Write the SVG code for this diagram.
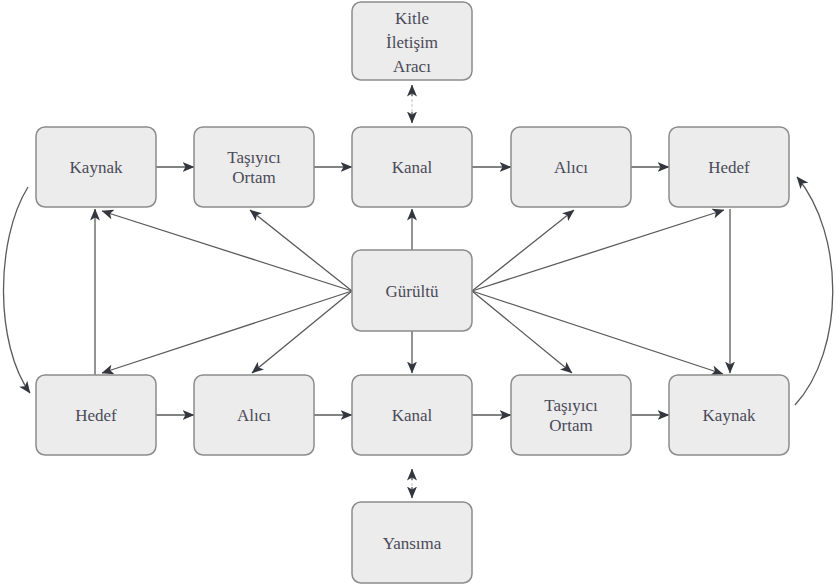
<svg xmlns="http://www.w3.org/2000/svg" width="836" height="587" viewBox="0 0 836 587">
<style>
.box{fill:#ececec;stroke:#8c8c8c;stroke-width:1.5}
text{font-family:'Liberation Serif','DejaVu Serif','Times New Roman',serif;font-size:17px;fill:#4a4a58;text-anchor:middle;dominant-baseline:central}
.c{fill:none;stroke:#5a5a5a;stroke-width:1.3}
.d{fill:none;stroke:#cfcfcf;stroke-width:1.3;stroke-dasharray:3 2}
</style>
<defs>
<marker id="ah" viewBox="0 0 12 10" refX="11.5" refY="5" markerWidth="12" markerHeight="10" markerUnits="userSpaceOnUse" orient="auto-start-reverse">
<path d="M0,0 L12,5 L0,10 L3,5 Z" fill="#33363d"/>
</marker>
</defs>
<rect width="836" height="587" fill="#fff"/>
<g id="connectors">
<line class="c" x1="156" y1="167" x2="194" y2="167" marker-end="url(#ah)"/>
<line class="c" x1="314" y1="167" x2="352" y2="167" marker-end="url(#ah)"/>
<line class="c" x1="472" y1="167" x2="511" y2="167" marker-end="url(#ah)"/>
<line class="c" x1="631" y1="167" x2="669" y2="167" marker-end="url(#ah)"/>
<line class="c" x1="156" y1="415" x2="194" y2="415" marker-end="url(#ah)"/>
<line class="c" x1="314" y1="415" x2="352" y2="415" marker-end="url(#ah)"/>
<line class="c" x1="472" y1="415" x2="511" y2="415" marker-end="url(#ah)"/>
<line class="c" x1="631" y1="415" x2="669" y2="415" marker-end="url(#ah)"/>
<line class="c" x1="95" y1="375" x2="95" y2="209" marker-end="url(#ah)"/>
<line class="c" x1="730" y1="209" x2="730" y2="373" marker-end="url(#ah)"/>
<line class="c" x1="352" y1="291" x2="102" y2="211" marker-end="url(#ah)"/>
<line class="c" x1="352" y1="291" x2="250" y2="210" marker-end="url(#ah)"/>
<line class="c" x1="352" y1="291" x2="102" y2="373" marker-end="url(#ah)"/>
<line class="c" x1="352" y1="291" x2="252" y2="373" marker-end="url(#ah)"/>
<line class="c" x1="412" y1="250" x2="412" y2="209" marker-end="url(#ah)"/>
<line class="c" x1="412" y1="331" x2="412" y2="373" marker-end="url(#ah)"/>
<line class="c" x1="472" y1="291" x2="574" y2="210" marker-end="url(#ah)"/>
<line class="c" x1="472" y1="291" x2="724" y2="210" marker-end="url(#ah)"/>
<line class="c" x1="472" y1="291" x2="572" y2="373" marker-end="url(#ah)"/>
<line class="c" x1="472" y1="291" x2="723" y2="374" marker-end="url(#ah)"/>
<path class="c" d="M28,187 C-5,240 -5,345 30,393" marker-end="url(#ah)"/>
<path class="c" d="M795,405 C845,350 845,235 797,177" marker-end="url(#ah)"/>
<line class="d" x1="412" y1="94" x2="412" y2="114"/>
<line class="c" x1="412" y1="96" x2="412" y2="85" marker-end="url(#ah)"/>
<line class="c" x1="412" y1="112" x2="412" y2="123" marker-end="url(#ah)"/>
<line class="d" x1="412" y1="478" x2="412" y2="490"/>
<line class="c" x1="412" y1="480" x2="412" y2="469" marker-end="url(#ah)"/>
<line class="c" x1="412" y1="487" x2="412" y2="498" marker-end="url(#ah)"/>
</g>
<g id="kitle"><rect class="box" x="352" y="2" width="120" height="78" rx="9"/><text x="412" y="18" font-family="Liberation Serif, serif">Kitle</text><text x="412" y="42" font-family="Liberation Serif, serif">İletişim</text><text x="412" y="66" font-family="Liberation Serif, serif">Aracı</text></g>
<g id="kaynak1"><rect class="box" x="36" y="127" width="120" height="80" rx="9"/><text x="96" y="167">Kaynak</text></g>
<g id="tasiyici1"><rect class="box" x="194" y="127" width="120" height="80" rx="9"/><text x="254" y="157">Taşıyıcı</text><text x="254" y="177">Ortam</text></g>
<g id="kanal1"><rect class="box" x="352" y="127" width="120" height="80" rx="9"/><text x="412" y="167">Kanal</text></g>
<g id="alici1"><rect class="box" x="511" y="127" width="120" height="80" rx="9"/><text x="571" y="167">Alıcı</text></g>
<g id="hedef1"><rect class="box" x="669" y="127" width="120" height="80" rx="9"/><text x="729" y="167">Hedef</text></g>
<g id="gurultu"><rect class="box" x="352" y="250" width="120" height="81" rx="9"/><text x="412" y="291">Gürültü</text></g>
<g id="hedef2"><rect class="box" x="36" y="375" width="120" height="80" rx="9"/><text x="96" y="415">Hedef</text></g>
<g id="alici2"><rect class="box" x="194" y="375" width="120" height="80" rx="9"/><text x="254" y="415">Alıcı</text></g>
<g id="kanal2"><rect class="box" x="352" y="375" width="120" height="80" rx="9"/><text x="412" y="415">Kanal</text></g>
<g id="tasiyici2"><rect class="box" x="511" y="375" width="120" height="80" rx="9"/><text x="571" y="405">Taşıyıcı</text><text x="571" y="425">Ortam</text></g>
<g id="kaynak2"><rect class="box" x="669" y="375" width="120" height="80" rx="9"/><text x="729" y="415">Kaynak</text></g>
<g id="yansima"><rect class="box" x="352" y="502" width="120" height="81" rx="9"/><text x="412" y="543">Yansıma</text></g>
</svg>
